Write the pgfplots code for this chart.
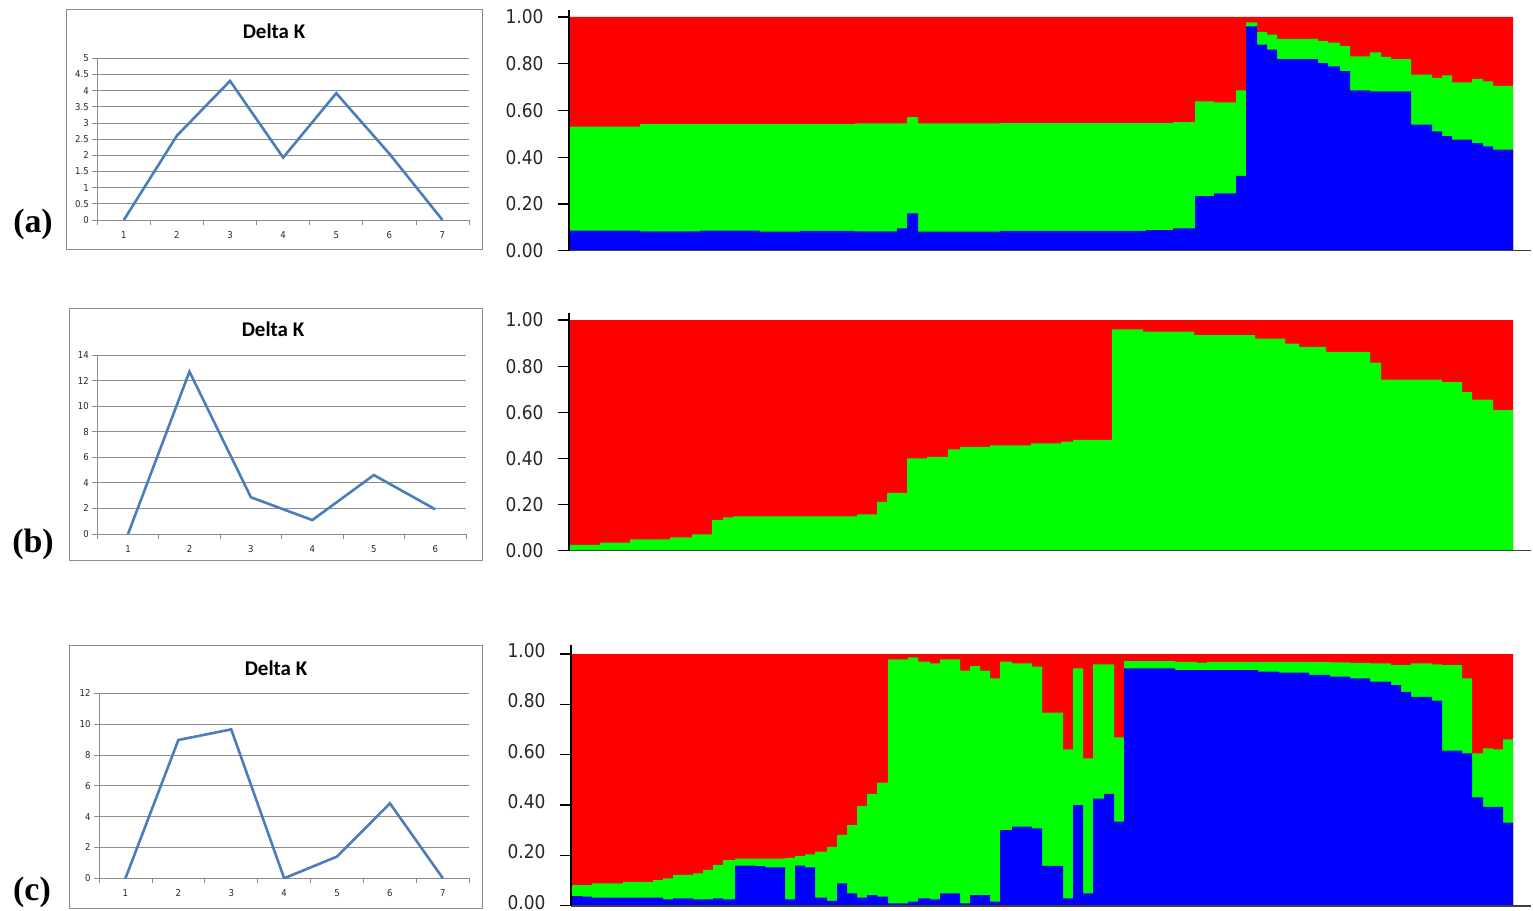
\documentclass[border=0pt]{standalone}
\usepackage{pgfplots}
\pgfplotsset{compat=1.18}
\usepackage{fontspec}
\setmainfont{Liberation Serif}
\newfontfamily\tickf{DejaVu Sans Condensed}
\newfontfamily\titf{Carlito}
\definecolor{xlblue}{RGB}{74,126,187}
\definecolor{xlgrid}{RGB}{140,140,140}
\definecolor{sred}{RGB}{255,0,0}
\definecolor{sgreen}{RGB}{0,255,0}
\definecolor{sblue}{RGB}{0,0,255}
\pgfplotsset{
 excel/.style={scale only axis, anchor=south west,
  axis x line*=bottom, axis y line*=left, xmin=0.5, ymin=0,
  ymajorgrids, grid style={xlgrid, line width=0.8bp},
  axis line style={xlgrid, line width=0.8bp, -},
  tick style={xlgrid, line width=0.8bp}, tick align=outside,
  major tick length=5bp, minor tick length=5bp,
  major x tick style={draw=none},
  ticklabel style={font=\tickf\fontsize{9.5}{11}\selectfont, text=black!85},
  xticklabel style={yshift=-3bp},
  /pgf/number format/assume math mode=true},
 struct/.style={scale only axis, anchor=south west, axis on top,
  axis x line*=bottom, axis y line*=left, ymin=0,
  ytick={0,0.2,0.4,0.6,0.8,1}, xtick=\empty,
  yticklabel style={/pgf/number format/fixed, /pgf/number format/fixed zerofill, /pgf/number format/precision=2},
  ticklabel style={font=\tickf\fontsize{19}{22}\selectfont, text=black!85, xshift=-11bp},
  /pgf/number format/assume math mode=true,
  x axis line style={line width=1.6bp, black!75, -},
  y axis line style={line width=1.2bp, black, -},
  tick style={line width=1.2bp, black}, tick align=outside, major tick length=11bp},
}
\begin{document}
\begin{tikzpicture}
\useasboundingbox (0,0) rectangle (1533bp,911bp);
% frames
\draw[xlgrid, line width=0.9bp] (66bp,662bp) rectangle (482bp,902bp);
\draw[xlgrid, line width=0.9bp] (69bp,351bp) rectangle (482bp,603bp);
\draw[xlgrid, line width=0.9bp] (69bp,3bp) rectangle (482bp,266bp);
\node[font=\titf\bfseries\fontsize{21}{24}\selectfont] at (274bp,880bp) {Delta K};
\node[font=\titf\bfseries\fontsize{21}{24}\selectfont] at (273bp,582bp) {Delta K};
\node[font=\titf\bfseries\fontsize{21}{24}\selectfont] at (276bp,243bp) {Delta K};
\node[font=\bfseries\fontsize{34}{38}\selectfont] at (33bp,687bp) {(a)};
\node[font=\bfseries\fontsize{34}{38}\selectfont] at (33bp,367bp) {(b)};
\node[font=\bfseries\fontsize{34}{38}\selectfont] at (32bp,19bp) {(c)};

% ---------- Delta K (a)
\begin{axis}[excel, at={(97.3bp,691bp)}, width=371.7bp, height=161.7bp,
  xmax=7.5, ymax=5, ytick={0,0.5,1,1.5,2,2.5,3,3.5,4,4.5,5},
  xtick={1,...,7}, minor xtick={0.5,1.5,...,7.5}]
\addplot[xlblue, line width=2.6bp] coordinates {(1,0) (2,2.61) (3,4.30) (4,1.93) (5,3.92) (6,2.05) (7,0)};
\end{axis}
% ---------- Delta K (b)
\begin{axis}[excel, at={(97.3bp,377bp)}, width=368.7bp, height=179bp,
  xmax=6.5, ymax=14, ytick={0,2,...,14},
  xtick={1,...,6}, minor xtick={0.5,1.5,...,6.5}]
\addplot[xlblue, line width=2.6bp] coordinates {(1,0) (2,12.70) (3,2.87) (4,1.09) (5,4.61) (6,1.93)};
\end{axis}
% ---------- Delta K (c)
\begin{axis}[excel, at={(99bp,32.7bp)}, width=370.3bp, height=185bp,
  xmax=7.5, ymax=12, ytick={0,2,...,12},
  xtick={1,...,7}, minor xtick={0.5,1.5,...,7.5}]
\addplot[xlblue, line width=2.6bp] coordinates {(1,0) (2,8.97) (3,9.66) (4,0) (5,1.41) (6,4.86) (7,0)};
\end{axis}

% ---------- STRUCTURE (a)
\begin{axis}[struct, at={(569bp,660.3bp)}, width=962bp, height=240.7bp,
  xmin=569, xmax=1531, ymax=1.03]
\addplot[const plot, fill=sred, draw=none] coordinates {(569,1) (1513,1)} \closedcycle;
\addplot[const plot, fill=sgreen, draw=none] coordinates {
(569,0.531) (640,0.542) (855,0.545) (907,0.572) (918,0.545) (1000,0.546) (1173,0.550)
(1195,0.639) (1214,0.635) (1236,0.686) (1246,0.977) (1257,0.936) (1267,0.925)
(1277,0.906) (1318,0.897) (1328,0.890) (1340,0.875) (1350,0.832) (1370,0.849)
(1381,0.829) (1391,0.820) (1411,0.753) (1432,0.739) (1442,0.750) (1452,0.720)
(1472,0.735) (1483,0.724) (1493,0.705) (1513,0.705)} \closedcycle;
\addplot[const plot, fill=sblue, draw=none] coordinates {
(569,0.086) (640,0.083) (700,0.086) (760,0.082) (800,0.085) (855,0.083) (897,0.096)
(907,0.160) (918,0.082) (1000,0.085) (1146,0.088) (1173,0.096) (1195,0.233)
(1214,0.245) (1236,0.320) (1246,0.960) (1257,0.882) (1267,0.860) (1277,0.820)
(1318,0.803) (1328,0.789) (1340,0.768) (1350,0.686) (1370,0.682) (1411,0.539)
(1432,0.511) (1442,0.490) (1452,0.475) (1472,0.460) (1483,0.446) (1493,0.432)
(1513,0.432)} \closedcycle;
\end{axis}

% ---------- STRUCTURE (b)
\begin{axis}[struct, at={(569bp,360.3bp)}, width=962bp, height=238bp,
  xmin=569, xmax=1531, ymax=1.032]
\addplot[const plot, fill=sred, draw=none] coordinates {(569,1) (1513,1)} \closedcycle;
\addplot[const plot, fill=sgreen, draw=none] coordinates {
(569,0.025) (600,0.035) (630,0.049) (670,0.058) (692,0.071) (712,0.133) (723,0.144)
(733,0.149) (857,0.157) (877,0.212) (887,0.251) (907,0.400) (927,0.407) (948,0.439)
(960,0.450) (990,0.457) (1031,0.465) (1061,0.473) (1073,0.480) (1112,0.960)
(1143,0.950) (1194,0.935) (1255,0.920) (1285,0.898) (1299,0.884) (1326,0.862)
(1370,0.815) (1381,0.742) (1442,0.731) (1462,0.688) (1472,0.655) (1493,0.609)
(1513,0.609)} \closedcycle;
\end{axis}

% ---------- STRUCTURE (c)
\begin{axis}[struct, at={(571bp,5.3bp)}, width=960bp, height=260.7bp,
  xmin=571, xmax=1531, ymax=1.036, yticklabel style={yshift=3.5bp}]
\addplot[const plot, fill=sred, draw=none] coordinates {(571,1) (1513,1)} \closedcycle;
\addplot[const plot, fill=sgreen, draw=none] coordinates {
(571,0.082) (592,0.089) (623,0.095) (653,0.102) (663,0.109) (673,0.122) (693,0.128)
(703,0.142) (713,0.162) (723,0.181) (735,0.187) (785,0.190) (795,0.197) (805,0.204)
(815,0.215) (827,0.234) (837,0.281) (847,0.320) (857,0.396) (867,0.444) (877,0.489)
(888,0.979) (908,0.987) (918,0.970) (930,0.963) (940,0.979) (960,0.934) (970,0.952)
(980,0.934) (990,0.903) (1000,0.970) (1012,0.963) (1032,0.950) (1042,0.767)
(1063,0.621) (1073,0.943) (1083,0.585) (1093,0.959) (1114,0.669) (1124,0.972)
(1175,0.969) (1197,0.965) (1207,0.969) (1309,0.968) (1330,0.967) (1350,0.965)
(1370,0.963) (1391,0.956) (1411,0.963) (1432,0.959) (1442,0.956) (1462,0.903)
(1472,0.605) (1483,0.625) (1493,0.621) (1503,0.661) (1513,0.661)} \closedcycle;
\addplot[const plot, fill=sblue, draw=none] coordinates {
(571,0.038) (582,0.036) (592,0.032) (663,0.025) (673,0.029) (693,0.025) (713,0.029)
(723,0.025) (735,0.159) (755,0.157) (765,0.152) (785,0.025) (795,0.159) (805,0.152)
(815,0.032) (827,0.019) (837,0.089) (847,0.049) (857,0.032) (867,0.042) (877,0.036)
(888,0.009) (908,0.016) (918,0.029) (930,0.025) (940,0.049) (960,0.009) (970,0.042)
(990,0.016) (1000,0.300) (1012,0.314) (1032,0.307) (1042,0.158) (1063,0.029)
(1073,0.400) (1083,0.049) (1093,0.426) (1104,0.444) (1114,0.334) (1124,0.943)
(1175,0.936) (1258,0.930) (1279,0.926) (1309,0.917) (1330,0.910) (1350,0.903)
(1370,0.890) (1391,0.877) (1401,0.850) (1411,0.830) (1432,0.815) (1442,0.616)
(1462,0.605) (1472,0.430) (1483,0.393) (1503,0.330) (1513,0.330)} \closedcycle;
\end{axis}
\end{tikzpicture}
\end{document}
